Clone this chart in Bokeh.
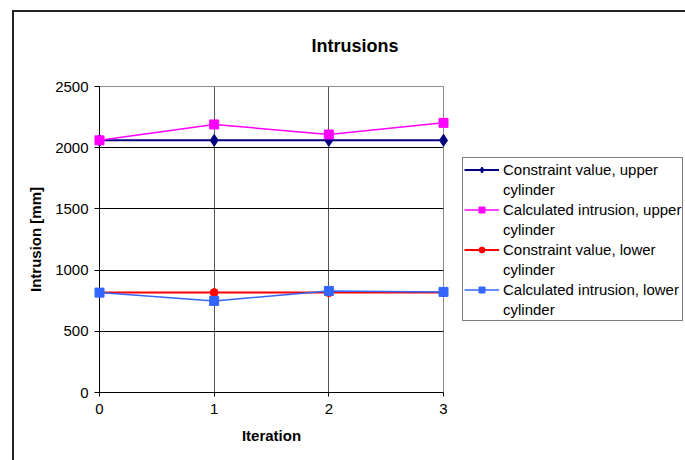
from bokeh.plotting import figure
from bokeh.models import Legend, LegendItem, FixedTicker, Range1d, Title
from bokeh.embed import file_html
from bokeh.resources import INLINE

# ---- data ----
iterations = [0, 1, 2, 3]
constraint_upper = [2060, 2060, 2060, 2060]
calculated_upper = [2060, 2190, 2108, 2203]
constraint_lower = [816, 816, 816, 816]
calculated_lower = [816, 748, 830, 822]
x_ticks = [0, 1, 2, 3]
y_ticks = [0, 500, 1000, 1500, 2000, 2500]

FONT = "Liberation Sans"

outer_border_css = {
    "background-color": "white",
    "background-image": "linear-gradient(#222222, #222222), linear-gradient(#222222, #222222)",
    "background-size": "2px 100%, 100% 2px",
    "background-position": "12px 10px, 12px 10px",
    "background-repeat": "no-repeat",
}

p = figure(frame_width=344, frame_height=306, output_backend="svg", toolbar_location=None,
           x_range=Range1d(0, 3), y_range=Range1d(0, 2500),
           min_border_left=99, min_border_right=0, min_border_top=86, min_border_bottom=68,
           styles=outer_border_css)
p.background_fill_color = "white"
p.border_fill_color = None
p.outline_line_color = "#8c8c8c"
p.outline_line_width = 1

p.title = Title(text="Intrusions", align="right", offset=45, standoff=61,
                text_font=FONT, text_font_style="bold", text_font_size="18px",
                text_color="black")

# axes
for ax in (p.xaxis, p.yaxis):
    ax.axis_line_color = "black"
    ax.axis_line_width = 1
    ax.major_tick_line_color = "black"
    ax.major_tick_in = 0
    ax.minor_tick_line_color = None
    ax.major_label_text_font = FONT
    ax.major_label_text_font_size = "15px"
    ax.major_label_text_color = "black"
    ax.axis_label_text_font = FONT
    ax.axis_label_text_font_size = "15px"
    ax.axis_label_text_font_style = "bold"
    ax.axis_label_text_color = "black"

p.xaxis.ticker = FixedTicker(ticks=x_ticks)
p.yaxis.ticker = FixedTicker(ticks=y_ticks)
p.xaxis.major_tick_out = 4
p.yaxis.major_tick_out = 5
p.xaxis.major_label_standoff = 7
p.yaxis.major_label_standoff = 6
p.xaxis.axis_label = "Iteration"
p.yaxis.axis_label = "Intrusion [mm]"
p.xaxis.axis_label_standoff = 10
p.yaxis.axis_label_standoff = 8

p.ygrid.ticker = FixedTicker(ticks=[500, 1000, 1500, 2000])
p.ygrid.grid_line_color = "black"
p.xgrid.ticker = FixedTicker(ticks=[1, 2])
p.xgrid.grid_line_color = "#555555"

# series
l1 = p.line(iterations, constraint_upper, line_color="#000080", line_width=2)
l2 = p.line(iterations, calculated_upper, line_color="#ff00ff", line_width=1.5)
l3 = p.line(iterations, constraint_lower, line_color="#ff0000", line_width=2)
l4 = p.line(iterations, calculated_lower, line_color="#3366ff", line_width=1.5)
m1 = p.scatter(iterations, constraint_upper, marker="diamond", size=12,
               fill_color="#000080", line_color="#000080", level="overlay")
m2 = p.scatter(iterations, calculated_upper, marker="square", size=9,
               fill_color="#ff00ff", line_color="#ff00ff", level="overlay")
m3 = p.scatter(iterations, constraint_lower, marker="circle", size=8,
               fill_color="#ff0000", line_color="#ff0000", level="overlay")
m4 = p.scatter(iterations, calculated_lower, marker="square", size=9,
               fill_color="#3366ff", line_color="#3366ff", level="overlay")
# invisible placeholder so second label lines have a renderer
blank = p.line([], [], line_alpha=0)

items = [
    LegendItem(label="Constraint value, upper", renderers=[l1, m1]),
    LegendItem(label="cylinder", renderers=[blank]),
    LegendItem(label="Calculated intrusion, upper", renderers=[l2, m2]),
    LegendItem(label="cylinder", renderers=[blank]),
    LegendItem(label="Constraint value, lower", renderers=[l3, m3]),
    LegendItem(label="cylinder", renderers=[blank]),
    LegendItem(label="Calculated intrusion, lower", renderers=[l4, m4]),
    LegendItem(label="cylinder", renderers=[blank]),
]
legend = Legend(items=items, location=(19, 71), padding=1, spacing=0, margin=0,
                label_height=20, glyph_height=15, glyph_width=35, label_standoff=4,
                label_text_font=FONT, label_text_font_size="15px",
                label_text_color="black",
                border_line_color="black", border_line_width=1,
                background_fill_color="white", background_fill_alpha=1)
p.add_layout(legend, "right")

open("out.html", "w").write(file_html(p, INLINE))
